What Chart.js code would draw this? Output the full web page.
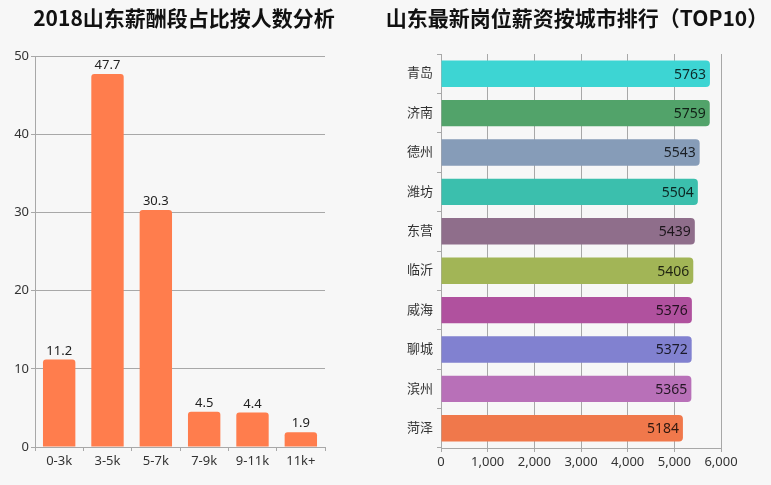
<!DOCTYPE html>
<html>
<head>
<meta charset="utf-8">
<script src="https://cdn.jsdelivr.net/npm/chart.js@4"></script>
<style>
  body { margin: 0; background: #f7f7f7; }
  #wrap { position: relative; width: 771px; height: 485px; background: #f7f7f7; }
  #cv1 { position: absolute; left: 0; top: 0; }
  #cv2 { position: absolute; left: 383px; top: 0; }
</style>
</head>
<body>
<div id="wrap">
  <canvas id="cv1" width="368" height="485"></canvas>
  <canvas id="cv2" width="388" height="485"></canvas>
</div>
<script>
//DATOS
const salaryRanges = ["0-3k", "3-5k", "5-7k", "7-9k", "9-11k", "11k+"];
const salaryShare = [11.2, 47.7, 30.3, 4.5, 4.4, 1.9];

const cities = ["青岛", "济南", "德州", "潍坊", "东营", "临沂", "威海", "聊城", "滨州", "菏泽"];
const cityPay = [5763, 5759, 5543, 5504, 5439, 5406, 5376, 5372, 5365, 5184];
const cityColors = ["#3dd5d3", "#52a36a", "#869cb8", "#3bbfad", "#8f6e8b", "#a2b556", "#b0519e", "#8181d0", "#b870b8", "#f0784b"];

const FONT = '"Noto Sans", "Noto Sans CJK SC", sans-serif';
const TITLE_FONT = '"Noto Sans CJK SC", "Noto Sans", sans-serif';
const GRID = "#a8a8a8";

Chart.defaults.font.family = FONT;
Chart.defaults.font.size = 13;
Chart.defaults.color = "#333";

//PLUGINS
const barLabels = {
  id: "barLabels",
  afterDatasetsDraw(chart, args, opts) {
    const ctx = chart.ctx;
    const meta = chart.getDatasetMeta(0);
    const values = chart.data.datasets[0].data;
    ctx.save();
    ctx.font = (opts.size || 13) + "px " + FONT;
    ctx.fillStyle = opts.color || "#222";
    meta.data.forEach((bar, i) => {
      if (opts.horizontal) {
        ctx.textAlign = "right";
        ctx.textBaseline = "middle";
        ctx.fillText(values[i], bar.x - 4, bar.y + 1);
      } else {
        ctx.textAlign = "center";
        ctx.textBaseline = "bottom";
        ctx.fillText(values[i], bar.x, bar.y - 2);
      }
    });
    ctx.restore();
  },
};

// titulo centrado en una x fija (el title de Chart.js se centra en el area con padding)
const fixedTitle = {
  id: "fixedTitle",
  afterDraw(chart, args, opts) {
    const ctx = chart.ctx;
    ctx.save();
    ctx.font = "bold 21px " + TITLE_FONT;
    ctx.fillStyle = "#111";
    ctx.textAlign = "center";
    ctx.textBaseline = "middle";
    ctx.fillText(opts.text, opts.x, opts.y);
    ctx.restore();
  },
};

//GRAFICO 1
new Chart(document.getElementById("cv1"), {
  type: "bar",
  data: {
    labels: salaryRanges,
    datasets: [{
      data: salaryShare,
      backgroundColor: "#ff7d4d",
      borderRadius: { topLeft: 3, topRight: 3 },
      borderSkipped: "bottom",
      categoryPercentage: 1,
      barPercentage: 0.67,
    }],
  },
  plugins: [barLabels, fixedTitle],
  options: {
    responsive: false,
    animation: false,
    layout: { padding: { left: 0, right: 43, top: 56, bottom: 0 } },
    plugins: {
      legend: { display: false },
      tooltip: { enabled: false },
      title: { display: false },
      fixedTitle: { text: "2018山东薪酬段占比按人数分析", x: 184, y: 18 },
      barLabels: { horizontal: false, color: "#222", size: 13 },
    },
    scales: {
      x: {
        grid: { display: true, drawOnChartArea: false, color: GRID, tickLength: 4, offset: true },
        border: { color: GRID },
        ticks: { color: "#333", padding: 2, font: { size: 13 } },
        afterFit(s) { s.height = 38; },
      },
      y: {
        min: 0,
        max: 50,
        ticks: { stepSize: 10, color: "#333", padding: 2, font: { size: 13 } },
        grid: { color: GRID, tickLength: 4 },
        border: { color: GRID },
        afterFit(s) { s.width = 35; },
      },
    },
  },
});

//GRAFICO 2
new Chart(document.getElementById("cv2"), {
  type: "bar",
  data: {
    labels: cities,
    datasets: [{
      data: cityPay,
      backgroundColor: cityColors,
      borderRadius: 4,
      borderSkipped: "start",
      categoryPercentage: 1,
      barPercentage: 0.67,
    }],
  },
  plugins: [barLabels, fixedTitle],
  options: {
    indexAxis: "y",
    responsive: false,
    animation: false,
    layout: { padding: { left: 0, right: 50, top: 54, bottom: 0 } },
    plugins: {
      legend: { display: false },
      tooltip: { enabled: false },
      title: { display: false },
      fixedTitle: { text: "山东最新岗位薪资按城市排行（TOP10）", x: 194, y: 18 },
      barLabels: { horizontal: true, color: "rgba(0,0,0,0.8)", size: 14 },
    },
    scales: {
      x: {
        min: 0,
        max: 6000,
        ticks: {
          stepSize: 1000,
          color: "#333",
          padding: 2,
          font: { size: 13 },
          callback: (v) => v.toLocaleString("en-US"),
        },
        grid: { color: GRID, tickLength: 4 },
        border: { color: GRID },
        afterFit(s) { s.height = 37; },
      },
      y: {
        grid: { display: true, drawOnChartArea: false, color: GRID, tickLength: 4, offset: true },
        border: { color: GRID },
        ticks: { color: "#333", padding: 4, font: { size: 13 } },
        afterFit(s) { s.width = 58; },
      },
    },
  },
});
</script>
</body>
</html>
